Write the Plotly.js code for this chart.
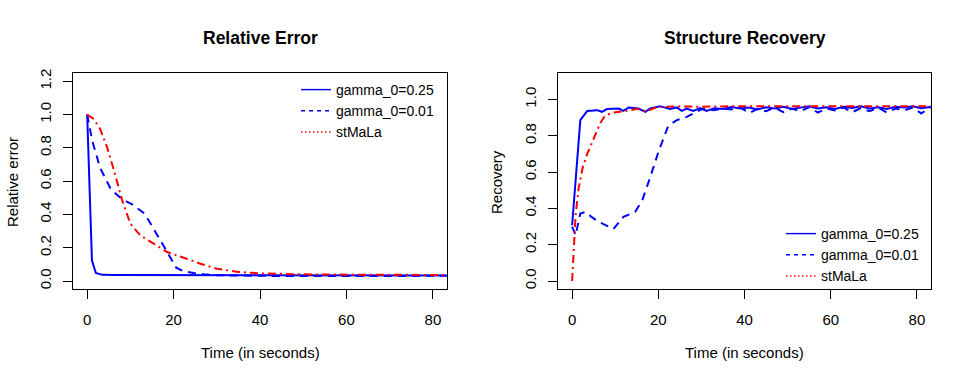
<!DOCTYPE html>
<html>
<head>
<meta charset="utf-8">
<script src="https://cdn.plot.ly/plotly-3.0.1.min.js"></script>
<style>
html, body { margin: 0; padding: 0; background: #fff; }
#chart { width: 969px; height: 381px; }
</style>
</head>
<body>
<div id="chart"></div>
<script>
// left panel: relative error
let errFastT = [0, 1.1, 2, 3.5, 6, 10, 15, 20, 25, 30, 35, 40, 45, 50, 55, 60, 65, 70, 75, 80, 85];
let errFast = [1.0, 0.124, 0.048, 0.037, 0.036, 0.036, 0.035, 0.036, 0.035, 0.035, 0.034, 0.034, 0.034, 0.033, 0.034, 0.033, 0.033, 0.034, 0.033, 0.033, 0.033];
let errSlowT = [0, 1.2, 3, 5.5, 8, 10.4, 13.3, 16.2, 18.5, 20.6, 22.3, 24.6, 27, 30, 35, 40, 50, 60, 70, 80, 85];
let errSlow = [1.0, 0.84, 0.68, 0.55, 0.494, 0.46, 0.405, 0.28, 0.175, 0.08, 0.058, 0.048, 0.04, 0.035, 0.032, 0.031, 0.030, 0.030, 0.030, 0.031, 0.031];
let errMalaT = [0, 1.5, 3, 4.6, 6.2, 8.1, 10, 12.3, 15.4, 18.5, 23, 26.2, 30, 35, 40, 45, 50, 60, 70, 80, 85];
let errMala = [1.0, 0.974, 0.914, 0.804, 0.664, 0.484, 0.344, 0.274, 0.224, 0.174, 0.134, 0.104, 0.074, 0.054, 0.046, 0.042, 0.04, 0.038, 0.037, 0.036, 0.036];

// right panel: structure recovery
let recFastT = [0, 1.9, 3.5, 5.8, 6.9, 8.1, 10.8, 11.9, 13.1, 15.4, 17, 18.1, 20.4, 22.7, 24.3, 25.4, 26.6, 28.1, 29.7, 31.2,
    33, 35, 37, 39, 41, 43, 45, 47, 49, 51, 53, 55, 57, 59, 61, 63, 65, 67, 69, 71, 73, 75, 77, 79, 81, 83, 85];
let recFast = [0.307, 0.886, 0.937, 0.941, 0.932, 0.947, 0.95, 0.937, 0.956, 0.95, 0.932, 0.95, 0.963, 0.947, 0.956, 0.937, 0.95, 0.937, 0.952, 0.937,
    0.952, 0.947, 0.958, 0.95, 0.955, 0.945, 0.957, 0.95, 0.96, 0.948, 0.955, 0.962, 0.95, 0.957, 0.948, 0.96, 0.953, 0.962, 0.95, 0.957, 0.948, 0.96, 0.955, 0.962, 0.952, 0.958, 0.955];
let recSlowT = [0, 0.8, 1.9, 3.1, 4.5, 6.2, 9.6, 11.9, 14.6, 16.2, 18.1, 20, 22.3, 24.3, 26.6, 28.9, 30.4, 32.7, 35, 37.4, 39, 41.2,
    43, 45, 47, 49, 51, 53, 55, 57, 59, 61, 63, 65, 67, 69, 71, 73, 75, 77, 79, 81, 83, 85];
let recSlow = [0.30, 0.252, 0.372, 0.38, 0.353, 0.325, 0.287, 0.353, 0.38, 0.44, 0.57, 0.71, 0.855, 0.886, 0.904, 0.932, 0.95, 0.941, 0.95, 0.945, 0.955, 0.926,
    0.948, 0.935, 0.955, 0.93, 0.95, 0.935, 0.958, 0.928, 0.95, 0.94, 0.955, 0.93, 0.952, 0.935, 0.955, 0.928, 0.95, 0.94, 0.955, 0.923, 0.955, 0.957];
let recMalaT = [0, 0.4, 0.8, 1.5, 2.5, 3.5, 5, 6.5, 7.7, 9.6, 12.7, 15, 17.2, 19.7, 22, 25, 30, 35, 40, 50, 60, 70, 80, 85];
let recMala = [0, 0.2, 0.36, 0.51, 0.63, 0.70, 0.785, 0.868, 0.913, 0.928, 0.937, 0.948, 0.935, 0.958, 0.96, 0.962, 0.96, 0.962, 0.963, 0.962, 0.963, 0.962, 0.963, 0.963];

let seriesNames = ["gamma_0=0.25", "gamma_0=0.01", "stMaLa"];
let errTicks = [0, 0.2, 0.4, 0.6, 0.8, 1.0, 1.2];
let recTicks = [0, 0.2, 0.4, 0.6, 0.8, 1.0];
let timeTicks = [0, 20, 40, 60, 80];

let blue = "#0000ff";
let red = "#ff0000";
let font = "Liberation Sans, Arial, Helvetica, sans-serif";

function curve(x, y, color, dash, xa, ya) {
    return {
        x: x, y: y, xaxis: xa, yaxis: ya,
        type: 'scatter', mode: 'lines', showlegend: false, hoverinfo: 'skip',
        line: { color: color, width: 2, dash: dash }
    };
}

// legend-only entries, drawn thin like R's legend()
function key(name, color, dash, xa, ya, lg) {
    return {
        x: [null], y: [null], xaxis: xa, yaxis: ya, legend: lg,
        type: 'scatter', mode: 'lines', name: name, hoverinfo: 'skip',
        line: { color: color, width: 1.4, dash: dash }
    };
}

let longDash = "8px,6px";
let dotDash = "8px,4px,2px,4px";

let data = [
    curve(errFastT, errFast, blue, 'solid', 'x', 'y'),
    curve(errSlowT, errSlow, blue, longDash, 'x', 'y'),
    curve(errMalaT, errMala, red, dotDash, 'x', 'y'),
    curve(recFastT, recFast, blue, 'solid', 'x2', 'y2'),
    curve(recSlowT, recSlow, blue, longDash, 'x2', 'y2'),
    curve(recMalaT, recMala, red, dotDash, 'x2', 'y2'),
    key(seriesNames[0], blue, 'solid', 'x', 'y', 'legend'),
    key(seriesNames[1], blue, "4px,4px", 'x', 'y', 'legend'),
    key(seriesNames[2], red, "1.5px,2.5px", 'x', 'y', 'legend'),
    key(seriesNames[0], blue, 'solid', 'x2', 'y2', 'legend2'),
    key(seriesNames[1], blue, "4px,4px", 'x2', 'y2', 'legend2'),
    key(seriesNames[2], red, "1.5px,2.5px", 'x2', 'y2', 'legend2')
];

function xAxis(domain, anchor) {
    return {
        domain: domain, anchor: anchor, range: [-3.2, 83.2],
        tickvals: timeTicks, ticks: 'outside', ticklen: 9, tickcolor: '#000',
        ticklabelstandoff: 8,
        showline: true, mirror: true, linecolor: '#000', linewidth: 1,
        showgrid: false, zeroline: false, fixedrange: true,
        tickfont: { size: 15, color: '#000' }
    };
}

function yAxis(range, ticks, anchor) {
    return {
        domain: [0.2415, 0.8076], anchor: anchor, range: range,
        tickvals: ticks, tickformat: '.1f', tickangle: -90,
        ticks: 'outside', ticklen: 9, tickcolor: '#000',
        ticklabelstandoff: 6,
        showline: true, mirror: true, linecolor: '#000', linewidth: 1,
        showgrid: false, zeroline: false, fixedrange: true,
        tickfont: { size: 15, color: '#000' }
    };
}

function label(text, x, y, size, angle) {
    return {
        text: text, x: x, y: y, xref: 'paper', yref: 'paper',
        xanchor: 'center', yanchor: 'middle', showarrow: false,
        textangle: angle || 0, font: { size: size, color: '#000' }
    };
}

let legendStyle = {
    bgcolor: 'rgba(0,0,0,0)', borderwidth: 0,
    xanchor: 'left', yanchor: 'top', font: { size: 14, color: '#000' },
    tracegroupgap: 0
};

let layout = {
    width: 969,
    height: 381,
    margin: { l: 0, r: 0, t: 0, b: 0 },
    paper_bgcolor: '#fff',
    plot_bgcolor: '#fff',
    font: { family: font, color: '#000' },
    xaxis: xAxis([0.0757, 0.4610], 'y'),
    yaxis: yAxis([-0.048, 1.248], errTicks, 'x'),
    xaxis2: xAxis([0.5762, 0.9605], 'y2'),
    yaxis2: yAxis([-0.044, 1.144], recTicks, 'x2'),
    legend: Object.assign({ x: 296 / 969, y: 1 - 74 / 381 }, legendStyle),
    legend2: Object.assign({ x: 781 / 969, y: 1 - 218 / 381 }, legendStyle),
    annotations: [
        label('<b>Relative Error</b>', 260 / 969, 1 - 38 / 381, 17.5),
        label('<b>Structure Recovery</b>', 744.5 / 969, 1 - 38 / 381, 17.5),
        label('Time (in seconds)', 260 / 969, 1 - 352 / 381, 15),
        label('Time (in seconds)', 744.5 / 969, 1 - 352 / 381, 15),
        label('Relative error', 12 / 969, 1 - 182 / 381, 15, -90),
        label('Recovery', 496 / 969, 1 - 182 / 381, 15, -90)
    ]
};

Plotly.newPlot('chart', data, layout, { displayModeBar: false, staticPlot: true });
</script>
</body>
</html>
